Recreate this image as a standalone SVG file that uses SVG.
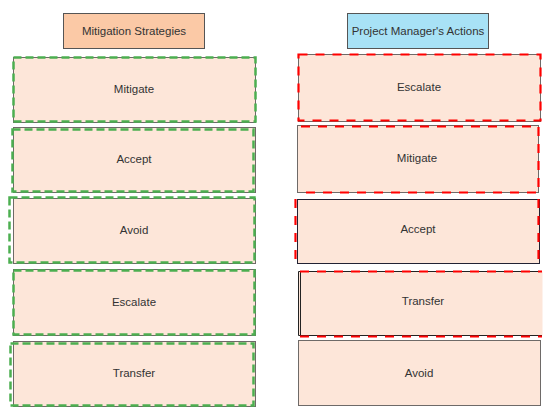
<svg xmlns="http://www.w3.org/2000/svg" width="550" height="411" viewBox="0 0 550 411">
<style>
text{font-family:"Liberation Sans",Arial,sans-serif;font-size:11.5px;fill:#333;text-anchor:middle;dominant-baseline:central}
.hdr{stroke:#555;stroke-width:1}
.box{fill:#fde6d9;stroke:#6e6a68;stroke-width:1}
.g{fill:none;stroke:#4caf50;stroke-width:2.5;stroke-dasharray:8 4}
.r{fill:none;stroke:#ff0000;stroke-width:2.2;stroke-dasharray:9 8}
.dk{fill:none;stroke:#222;stroke-width:1}
</style>
<rect width="550" height="411" fill="#fff"/>
<g id="hdr-left"><rect class="hdr" x="63.5" y="13.5" width="141" height="35" fill="#fbc9a6"/><text x="134" y="31">Mitigation Strategies</text></g>
<g id="hdr-right"><rect class="hdr" x="347.5" y="13.5" width="141" height="35" fill="#a8e2f6"/><text x="418" y="31">Project Manager's Actions</text></g>

<g id="l-mitigate"><rect class="box" x="13.5" y="57.5" width="242" height="65"/><rect class="g" x="13.5" y="57.5" width="242" height="64"/><text x="134" y="89">Mitigate</text></g>
<g id="l-accept"><rect class="box" x="13.5" y="127.5" width="242" height="65"/><rect class="g" x="12.5" y="129.5" width="241" height="62"/><text x="134" y="159">Accept</text></g>
<g id="l-avoid"><rect class="box" x="13.5" y="198.5" width="242" height="65"/><rect class="g" x="9.5" y="197.5" width="245" height="65"/><text x="134" y="230">Avoid</text></g>
<g id="l-escalate"><rect class="box" x="13.5" y="269.5" width="242" height="66"/><rect class="g" x="13.5" y="270.5" width="241" height="64"/><text x="134" y="302">Escalate</text></g>
<g id="l-transfer"><rect class="box" x="13.5" y="341.5" width="242" height="65"/><rect class="g" x="10.5" y="343.5" width="243" height="62"/><text x="134" y="373">Transfer</text></g>

<g id="r-escalate"><rect class="box" x="298.5" y="54.5" width="242" height="67"/><rect class="r" x="298.5" y="54.5" width="242" height="66"/><text x="419" y="87">Escalate</text></g>
<g id="r-mitigate"><rect class="box" x="297.5" y="125.5" width="241" height="67"/><path class="r" d="M301 126.5H538.5V192.5H298"/><text x="417" y="158">Mitigate</text></g>
<g id="r-accept"><rect class="box" x="297.5" y="199.5" width="242" height="64" style="stroke:#223"/><path class="r" d="M295.5 199V263M538.5 199V263"/><text x="418" y="229">Accept</text></g>
<g id="r-transfer"><rect x="298.5" y="271.5" width="244" height="64" fill="#fde6d9"/><path class="dk" d="M542 271.5H298.5V335.5H542M300.5 272V335"/><path class="r" d="M300 271.5H542M300 336.5H542"/><text x="423" y="301">Transfer</text></g>
<g id="r-avoid"><rect class="box" x="298.5" y="340.5" width="242" height="65"/><text x="419" y="373">Avoid</text></g>
<g id="connectors"/>
</svg>
